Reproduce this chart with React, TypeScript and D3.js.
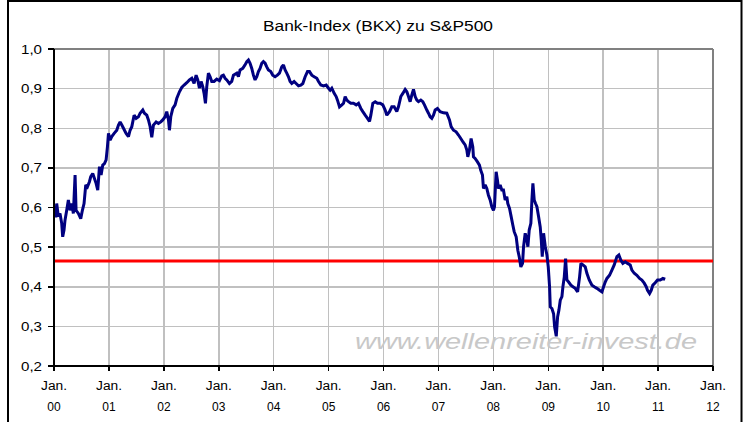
import React from 'react';
import * as d3 from 'd3';

const TITLE = 'Bank-Index (BKX) zu S&P500';
const WATERMARK = 'www.wellenreiter-invest.de';

// Decimal-year positions of the readings and the ratio BKX / S&P500
const dateYears = [
  2000.01, 2000.035, 2000.049, 2000.079, 2000.109, 2000.140, 2000.158, 2000.182, 2000.200, 2000.231,
  2000.261, 2000.291, 2000.322, 2000.352, 2000.383, 2000.401, 2000.443, 2000.486, 2000.516, 2000.546,
  2000.577, 2000.607, 2000.644, 2000.668, 2000.704, 2000.735, 2000.765, 2000.795, 2000.826, 2000.856,
  2000.886, 2000.917, 2000.947, 2000.971, 2000.990, 2001.020, 2001.050, 2001.093, 2001.141, 2001.172,
  2001.202, 2001.233, 2001.263, 2001.311, 2001.354, 2001.384, 2001.415, 2001.457, 2001.494, 2001.536,
  2001.566, 2001.615, 2001.645, 2001.688, 2001.718, 2001.749, 2001.779, 2001.809, 2001.858, 2001.900,
  2001.943, 2001.979, 2002.022, 2002.052, 2002.083, 2002.101, 2002.125, 2002.162, 2002.204, 2002.234,
  2002.283, 2002.325, 2002.368, 2002.417, 2002.465, 2002.508, 2002.550, 2002.587, 2002.617, 2002.647,
  2002.678, 2002.708, 2002.732, 2002.757, 2002.781, 2002.811, 2002.842, 2002.872, 2002.914, 2002.963,
  2003.012, 2003.054, 2003.084, 2003.115, 2003.145, 2003.194,
  2003.236, 2003.267, 2003.328, 2003.358, 2003.388, 2003.437, 2003.479, 2003.510, 2003.540, 2003.570,
  2003.601, 2003.631, 2003.661, 2003.692, 2003.722, 2003.752, 2003.783, 2003.813, 2003.844, 2003.874,
  2003.904, 2003.947, 2003.983, 2004.026, 2004.068, 2004.105, 2004.148, 2004.178, 2004.208, 2004.238,
  2004.269, 2004.299, 2004.329, 2004.372, 2004.408, 2004.451, 2004.493, 2004.530, 2004.572, 2004.615,
  2004.651, 2004.693, 2004.736, 2004.784, 2004.815, 2004.857, 2004.906, 2004.954, 2004.997, 2005.027,
  2005.057, 2005.100, 2005.136, 2005.160, 2005.197, 2005.240, 2005.270, 2005.300, 2005.330, 2005.361,
  2005.403, 2005.452, 2005.501, 2005.543, 2005.586, 2005.622, 2005.665, 2005.707, 2005.744, 2005.768,
  2005.804, 2005.847, 2005.889, 2005.938, 2005.986, 2006.029, 2006.059, 2006.108, 2006.150, 2006.193,
  2006.241, 2006.271, 2006.314, 2006.351, 2006.393, 2006.424, 2006.454, 2006.484, 2006.515, 2006.545,
  2006.576, 2006.606, 2006.636, 2006.679, 2006.715, 2006.745, 2006.788, 2006.818, 2006.849, 2006.879,
  2006.909, 2006.940, 2006.982, 2007.031,
  2007.092, 2007.152, 2007.201, 2007.231, 2007.274, 2007.322, 2007.365, 2007.407, 2007.444, 2007.486,
  2007.517, 2007.535, 2007.565, 2007.595, 2007.626, 2007.638, 2007.668, 2007.711, 2007.747, 2007.771,
  2007.802, 2007.820, 2007.851, 2007.881, 2007.911, 2007.942, 2007.972, 2008.002, 2008.021, 2008.051,
  2008.075, 2008.093, 2008.124, 2008.154, 2008.184, 2008.215, 2008.245, 2008.263, 2008.294, 2008.324,
  2008.354, 2008.379, 2008.415, 2008.445, 2008.470, 2008.500, 2008.531, 2008.549, 2008.579, 2008.610,
  2008.628, 2008.652, 2008.682, 2008.701, 2008.719, 2008.743, 2008.767, 2008.792, 2008.822, 2008.852,
  2008.871, 2008.889, 2008.913, 2008.944, 2008.974, 2008.998, 2009.022, 2009.035, 2009.065, 2009.095,
  2009.114, 2009.144, 2009.168, 2009.192, 2009.217, 2009.247, 2009.265, 2009.290, 2009.314, 2009.338,
  2009.369, 2009.411, 2009.448, 2009.490, 2009.533, 2009.569, 2009.593, 2009.630, 2009.672, 2009.702,
  2009.745, 2009.794, 2009.836, 2009.885, 2009.933, 2009.976, 2010.006, 2010.036, 2010.067, 2010.115,
  2010.158, 2010.200, 2010.249, 2010.285, 2010.322, 2010.358, 2010.401, 2010.443, 2010.492, 2010.522,
  2010.565, 2010.613, 2010.662, 2010.704, 2010.747, 2010.783, 2010.807, 2010.844, 2010.874, 2010.904,
  2010.947, 2010.989, 2011.038, 2011.087, 2011.129,
];

const ratioValues = [
  0.600, 0.575, 0.610, 0.577, 0.585, 0.560, 0.526, 0.543, 0.568, 0.593,
  0.619, 0.593, 0.610, 0.585, 0.682, 0.593, 0.585, 0.572, 0.593, 0.610,
  0.657, 0.652, 0.665, 0.678, 0.686, 0.673, 0.661, 0.644, 0.703, 0.682,
  0.707, 0.711, 0.720, 0.753, 0.787, 0.770, 0.779, 0.787, 0.795, 0.808,
  0.816, 0.808, 0.800, 0.787, 0.779, 0.795, 0.804, 0.833, 0.825, 0.829,
  0.838, 0.846, 0.838, 0.833, 0.821, 0.804, 0.777, 0.808, 0.816, 0.812,
  0.816, 0.821, 0.829, 0.842, 0.821, 0.795, 0.829, 0.850, 0.859, 0.875,
  0.892, 0.903, 0.909, 0.915, 0.922, 0.926, 0.913, 0.934, 0.922, 0.901,
  0.918, 0.905, 0.888, 0.863, 0.905, 0.939, 0.930, 0.918, 0.918, 0.924,
  0.920, 0.932, 0.934, 0.926, 0.922, 0.913,
  0.918, 0.934, 0.939, 0.930, 0.947, 0.951, 0.960, 0.968, 0.972, 0.964,
  0.951, 0.934, 0.922, 0.930, 0.943, 0.951, 0.964, 0.968, 0.964, 0.955,
  0.947, 0.943, 0.934, 0.930, 0.934, 0.939, 0.955, 0.960, 0.947, 0.939,
  0.930, 0.918, 0.913, 0.918, 0.913, 0.907, 0.909, 0.913, 0.930, 0.943,
  0.943, 0.934, 0.930, 0.926, 0.918, 0.909, 0.907, 0.909, 0.901, 0.896,
  0.901, 0.888, 0.880, 0.871, 0.854, 0.859, 0.863, 0.880, 0.871, 0.867,
  0.863, 0.863, 0.859, 0.863, 0.850, 0.842, 0.833, 0.825, 0.817, 0.833,
  0.863, 0.867, 0.863, 0.863, 0.859, 0.846, 0.833, 0.842, 0.854, 0.854,
  0.842, 0.854, 0.880, 0.888, 0.898, 0.892, 0.880, 0.867, 0.884, 0.898,
  0.880, 0.871, 0.867, 0.871, 0.867, 0.859, 0.846, 0.838, 0.829, 0.825,
  0.833, 0.846, 0.850, 0.842,
  0.839, 0.838, 0.821, 0.804, 0.795, 0.791, 0.783, 0.774, 0.766, 0.758,
  0.745, 0.728, 0.745, 0.774, 0.753, 0.728, 0.724, 0.715, 0.707, 0.694,
  0.682, 0.648, 0.657, 0.648, 0.631, 0.619, 0.602, 0.593, 0.602, 0.690,
  0.669, 0.648, 0.657, 0.644, 0.644, 0.619, 0.627, 0.610, 0.598, 0.577,
  0.556, 0.539, 0.526, 0.492, 0.476, 0.450, 0.459, 0.501, 0.535, 0.518,
  0.501, 0.543, 0.560, 0.619, 0.661, 0.619, 0.610, 0.602, 0.577, 0.551,
  0.518, 0.476, 0.535, 0.501, 0.480, 0.450, 0.400, 0.349, 0.345, 0.332,
  0.299, 0.275, 0.324, 0.341, 0.366, 0.375, 0.400, 0.425, 0.471, 0.417,
  0.412, 0.404, 0.400, 0.396, 0.387, 0.425, 0.459, 0.455, 0.450, 0.434,
  0.417, 0.404, 0.400, 0.396, 0.391, 0.387, 0.400, 0.412, 0.421, 0.429,
  0.442, 0.455, 0.476, 0.480, 0.467, 0.459, 0.463, 0.459, 0.455, 0.442,
  0.434, 0.429, 0.421, 0.417, 0.409, 0.400, 0.391, 0.383, 0.391, 0.404,
  0.410, 0.417, 0.417, 0.421, 0.419,
];

const referenceLevel = 0.465;

const yTickValues = [0.2, 0.3, 0.4, 0.5, 0.6, 0.7, 0.8, 0.9, 1.0];
const yTickLabels = ['0,2', '0,3', '0,4', '0,5', '0,6', '0,7', '0,8', '0,9', '1,0'];
const xTickYears = [2000, 2001, 2002, 2003, 2004, 2005, 2006, 2007, 2008, 2009, 2010, 2011, 2012];
const xTickMonthLabel = 'Jan.';
const xTickYearLabels = ['00', '01', '02', '03', '04', '05', '06', '07', '08', '09', '10', '11', '12'];

function decimalYearToDate(d: number): Date {
  const y = Math.floor(d);
  const start = Date.UTC(y, 0, 1);
  const end = Date.UTC(y + 1, 0, 1);
  return new Date(start + (d - y) * (end - start));
}

export default function App() {
  const left = 54, right = 713, top = 49, bottom = 366;
  const x = d3.scaleUtc()
    .domain([new Date(Date.UTC(2000, 0, 1)), new Date(Date.UTC(2012, 0, 1))])
    .range([left, right]);
  const y = d3.scaleLinear().domain([0.2, 1.0]).range([bottom, top]);

  const points = dateYears.map((d, i) => ({ date: decimalYearToDate(d), value: ratioValues[i] }));
  const linePath = d3.line<{ date: Date; value: number }>()
    .x(p => x(p.date))
    .y(p => y(p.value))(points) || '';

  const font = '"Liberation Sans", Arial, sans-serif';

  return (
    <svg width={750} height={422} style={{ position: 'absolute', left: 0, top: 0, background: '#fff' }}
      fontFamily={font}>
      <rect x={0} y={0} width={750} height={422} fill="#fff" />
      {/* outer frame */}
      <rect x={8} y={1} width={733.5} height={440} fill="none" stroke="#000" strokeWidth={2} />

      {/* title */}
      <text x={263} y={31} fontSize={14} fill="#000" textLength={230} lengthAdjust="spacingAndGlyphs">{TITLE}</text>

      {/* grid */}
      <g stroke="#c0c0c0" strokeWidth={1.5} shapeRendering="crispEdges">
        {yTickValues.filter(v => v > 0.2 && v < 1.0).map(v => (
          <line key={'h' + v} x1={left} x2={right} y1={y(v)} y2={y(v)} />
        ))}
        {xTickYears.filter(yr => yr > 2000 && yr < 2012).map(yr => {
          const xx = x(new Date(Date.UTC(yr, 0, 1)));
          return <line key={'v' + yr} x1={xx} x2={xx} y1={top} y2={bottom} />;
        })}
      </g>
      {/* plot border top/right */}
      <g stroke="#808080" strokeWidth={1.5} shapeRendering="crispEdges">
        <line x1={left} x2={right} y1={top} y2={top} />
        <line x1={right} x2={right} y1={top} y2={bottom} />
      </g>

      {/* watermark */}
      <text x={355} y={349} fontSize={22} fontStyle="italic" fill="#c8c8c8"
        textLength={342} lengthAdjust="spacingAndGlyphs">{WATERMARK}</text>

      {/* reference line */}
      <line x1={left} x2={right} y1={y(referenceLevel)} y2={y(referenceLevel)} stroke="#ff0000" strokeWidth={3} />

      {/* series */}
      <path d={linePath} fill="none" stroke="#000080" strokeWidth={3} strokeLinejoin="miter" strokeMiterlimit={2} />

      {/* axes */}
      <g stroke="#000" strokeWidth={1.5} shapeRendering="crispEdges">
        <line x1={left} x2={left} y1={top} y2={bottom} />
        <line x1={left} x2={right} y1={bottom} y2={bottom} />
        {yTickValues.map(v => (
          <line key={'yt' + v} x1={left - 6} x2={left} y1={y(v)} y2={y(v)} />
        ))}
        {xTickYears.map(yr => {
          const xx = x(new Date(Date.UTC(yr, 0, 1)));
          return <line key={'xt' + yr} x1={xx} x2={xx} y1={bottom} y2={bottom + 5} />;
        })}
      </g>

      {/* y labels */}
      {yTickValues.map((v, i) => (
        <text key={'yl' + v} x={21} y={y(v) + 4.5} fontSize={12} fill="#000"
          textLength={21} lengthAdjust="spacingAndGlyphs">{yTickLabels[i]}</text>
      ))}

      {/* x labels */}
      {xTickYears.map((yr, i) => {
        const xx = x(new Date(Date.UTC(yr, 0, 1)));
        return (
          <g key={'xl' + yr}>
            <text x={xx - 13} y={390} fontSize={12} fill="#000" textLength={26} lengthAdjust="spacingAndGlyphs">{xTickMonthLabel}</text>
            <text x={xx} y={411} fontSize={12} fill="#000" textAnchor="middle">{xTickYearLabels[i]}</text>
          </g>
        );
      })}
    </svg>
  );
}
